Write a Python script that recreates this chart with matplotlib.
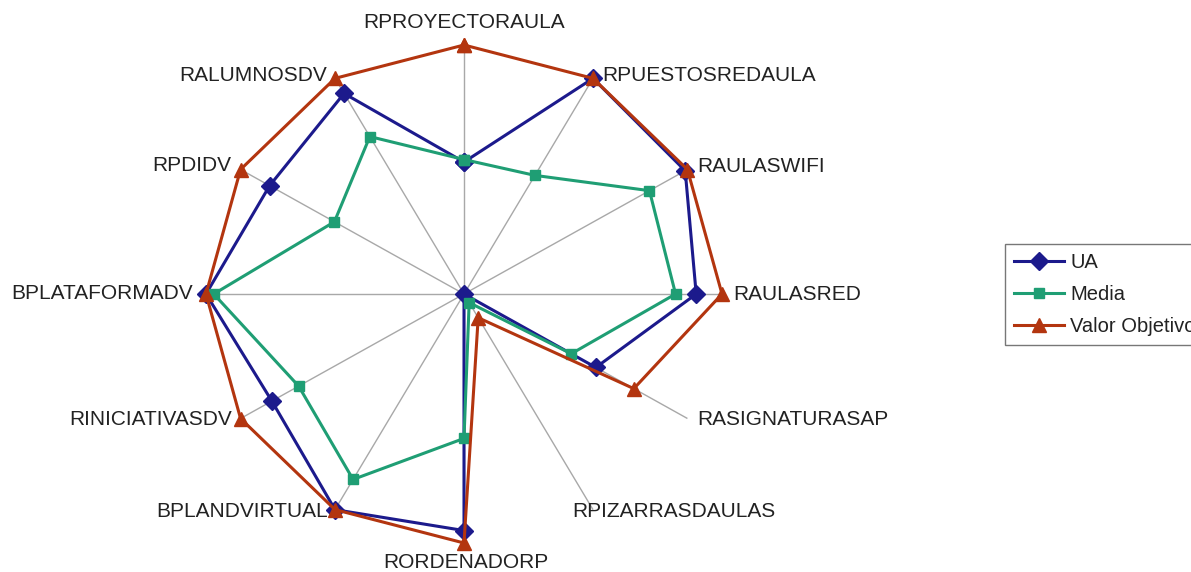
import numpy as np
import matplotlib.pyplot as plt

# === DATA ===
categories = ["RPROYECTORAULA", "RPUESTOSREDAULA", "RAULASWIFI", "RAULASRED",
              "RASIGNATURASAP", "RPIZARRASDAULAS", "RORDENADORP", "BPLANDVIRTUAL",
              "RINICIATIVASDV", "BPLATAFORMADV", "RPDIDV", "RALUMNOSDV"]
ua = [53, 100, 99, 90, 59, 0, 95, 100, 86, 100, 87, 93]
media = [54, 55, 83, 82, 48, 4, 58, 86, 74, 97, 58, 73]
valor_objetivo = [100, 100, 100, 100, 76, 11, 100, 100, 100, 100, 100, 100]

# label offsets in pixels from the end of each spoke (dx, dy, ha)
label_offsets = [(0, 23, "center"), (9, 3, "left"), (10, 3, "left"), (11, 0, "left"),
                 (10, -1, "left"), (-21, -2, "left"), (2, -19, "center"), (-7, -2, "right"),
                 (-9, -1, "right"), (-13, 1, "right"), (-9, 4, "right"), (-8, 3, "right")]

plt.rcParams["font.family"] = ["Liberation Sans", "DejaVu Sans"]

n = len(categories)
angles = np.linspace(0, 2 * np.pi, n, endpoint=False)
theta = np.append(angles, angles[0])

fig = plt.figure(figsize=(11.91, 5.72), dpi=100)
# plot area is slightly wider than tall, like the original
ax = fig.add_axes([(464 - 258) / 1191, (572 - 294 - 249) / 572, 516 / 1191, 498 / 572],
                  projection="polar")
ax.set_aspect("auto")
ax.set_theta_zero_location("N")
ax.set_theta_direction(-1)
ax.set_ylim(0, 100)
ax.set_xticks(angles)
ax.set_xticklabels([])
ax.set_yticks([])
ax.spines["polar"].set_visible(False)
ax.xaxis.grid(True, color="#a8a8a8", lw=1.0)
ax.yaxis.grid(False)
ax.set_facecolor("none")

series = [
    ("UA", ua, "#1c1a8c", "D", 9),
    ("Media", media, "#1f9e74", "s", 7),
    ("Valor Objetivo", valor_objetivo, "#b3350f", "^", 10),
]
for name, vals, col, mk, ms in series:
    v = np.append(vals, vals[0])
    ax.plot(theta, v, color=col, lw=2.2, marker=mk, markersize=ms,
            markeredgecolor=col, markerfacecolor=col, label=name, clip_on=False)

for ang, cat, (dx, dy, ha) in zip(angles, categories, label_offsets):
    ax.annotate(cat, xy=(ang, 100), xytext=(dx, dy), textcoords="offset pixels",
                ha=ha, va="center", fontsize=15, color="#222222", annotation_clip=False)

# legend runs off the right edge, as in the original
leg = fig.legend(loc="upper left", bbox_to_anchor=(1005 / 1191, 1 - 244 / 572),
                 fontsize=14.5, frameon=True, fancybox=False, handlelength=2.5,
                 borderpad=0.45, labelspacing=0.65, handletextpad=0.3, borderaxespad=0)
leg.get_frame().set_edgecolor("#555555")
leg.get_frame().set_linewidth(1.0)
for t in leg.get_texts():
    t.set_color("#222222")

fig.savefig("out.png", dpi=100)
